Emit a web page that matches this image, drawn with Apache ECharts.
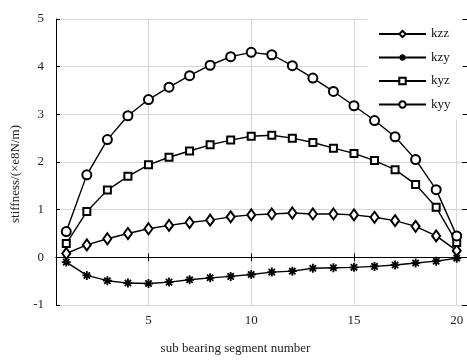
<!DOCTYPE html>
<html>
<head>
<meta charset="utf-8">
<script src="https://cdn.jsdelivr.net/npm/echarts@6/dist/echarts.min.js"></script>
<style>
    html, body { margin: 0; padding: 0; background: #fff; }
    #stiffChart { width: 467px; height: 360px; }
</style>
</head>
<body>
<div id="stiffChart"></div>
<script>
var segments = [1, 2, 3, 4, 5, 6, 7, 8, 9, 10, 11, 12, 13, 14, 15, 16, 17, 18, 19, 20];
var xTicks = [5, 10, 15, 20];
var kzz = [0.08, 0.26, 0.39, 0.50, 0.60, 0.67, 0.73, 0.78, 0.85, 0.89, 0.91, 0.93, 0.91, 0.91, 0.89, 0.84, 0.77, 0.65, 0.45, 0.14];
var kzy = [-0.10, -0.38, -0.49, -0.54, -0.55, -0.52, -0.47, -0.43, -0.40, -0.36, -0.31, -0.29, -0.23, -0.22, -0.21, -0.19, -0.16, -0.12, -0.08, -0.02];
var kyz = [0.29, 0.96, 1.41, 1.70, 1.94, 2.10, 2.23, 2.36, 2.46, 2.54, 2.56, 2.50, 2.41, 2.29, 2.18, 2.03, 1.84, 1.53, 1.05, 0.31];
var kyy = [0.54, 1.73, 2.47, 2.97, 3.31, 3.57, 3.81, 4.03, 4.21, 4.30, 4.25, 4.02, 3.76, 3.48, 3.18, 2.87, 2.53, 2.05, 1.42, 0.45];

var fontName = '"Liberation Serif", "Times New Roman", serif';
var asterisk = 'path://M5,0L5,10M0,5L10,5M1.5,1.5L8.5,8.5M8.5,1.5L1.5,8.5';

function pairs(values) {
    return segments.map(function (s, i) {
        return [s, values[i]];
    });
}

function makeSeries(name, values, symbol, size, border) {
    return {
        name: name,
        type: 'line',
        z: 3,
        data: pairs(values),
        symbol: symbol,
        symbolSize: size,
        showAllSymbol: true,
        lineStyle: { color: '#000', width: 1.4 },
        itemStyle: { color: '#000', borderColor: '#000', borderWidth: border },
        emphasis: { disabled: true },
        animation: false
    };
}

var stiffChart = echarts.init(document.getElementById('stiffChart'));

var stiffOption = {
    backgroundColor: '#fff',
    textStyle: { fontFamily: fontName },
    grid: { left: 56, top: 19, width: 412, height: 289 },
    legend: {
        orient: 'vertical',
        z: 1,
        left: 368,
        top: 19,
        backgroundColor: '#fff',
        padding: [8.5, 12, 8.5, 10],
        itemWidth: 47,
        itemHeight: 8,
        itemGap: 10.5,
        textStyle: { fontFamily: fontName, fontSize: 13, color: '#111' },
        data: ['kzz', 'kzy', 'kyz', 'kyy']
    },
    xAxis: [
        {
            type: 'value',
            min: 0.5,
            max: 20.5,
            name: 'sub bearing segment number',
            nameLocation: 'middle',
            nameGap: 37,
            nameTextStyle: { fontFamily: fontName, fontSize: 13, color: '#222', padding: [0, 52, 0, 0] },
            axisLine: { lineStyle: { color: '#000', width: 1 } },
            axisTick: { inside: true, length: 4, customValues: xTicks, lineStyle: { color: '#000' } },
            axisLabel: { customValues: xTicks, margin: 9, fontFamily: fontName, fontSize: 13, color: '#222' },
            splitLine: { show: true, lineStyle: { color: '#d6d6d6', width: 1 } }
        },
        {
            type: 'value',
            position: 'top',
            min: 0.5,
            max: 20.5,
            axisLine: { show: true, lineStyle: { color: '#000', width: 1 } },
            axisTick: { inside: true, length: 4, customValues: xTicks, lineStyle: { color: '#000' } },
            axisLabel: { show: false },
            splitLine: { show: false }
        }
    ],
    yAxis: [
        {
            type: 'value',
            min: -1,
            max: 5,
            interval: 1,
            name: 'stiffness/(\u00d7e8N/m)',
            nameLocation: 'middle',
            nameGap: 34,
            nameTextStyle: { fontFamily: fontName, fontSize: 13, color: '#222', padding: [0, 24, 0, 0] },
            axisLine: { show: true, lineStyle: { color: '#000', width: 1 } },
            axisTick: { show: true, inside: true, length: 4, lineStyle: { color: '#000' } },
            axisLabel: { margin: 12, fontFamily: fontName, fontSize: 13, color: '#222', padding: [0, 0, 8, 0] },
            splitLine: { show: true, lineStyle: { color: '#d6d6d6', width: 1 } }
        },
        {
            type: 'value',
            position: 'right',
            min: -1,
            max: 5,
            interval: 1,
            axisLine: { show: true, lineStyle: { color: '#000', width: 1 } },
            axisTick: { show: true, inside: true, length: 5, lineStyle: { color: '#000' } },
            axisLabel: { show: false },
            splitLine: { show: false }
        }
    ],
    series: [
        makeSeries('kzz', kzz, 'emptyDiamond', [8, 11], 1.3),
        makeSeries('kzy', kzy, asterisk, 9, 1.8),
        makeSeries('kyz', kyz, 'emptyRect', 7, 1.3),
        makeSeries('kyy', kyy, 'emptyCircle', 9, 1.3)
    ]
};
stiffChart.setOption(stiffOption, true);
</script>
</body>
</html>
